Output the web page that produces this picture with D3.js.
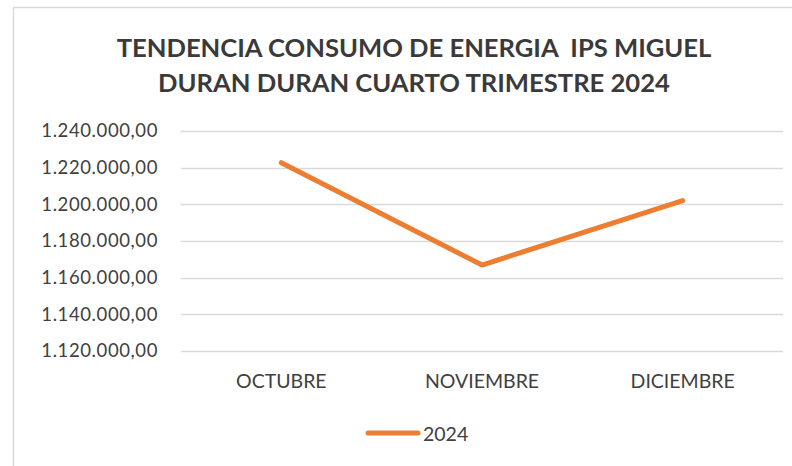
<!DOCTYPE html>
<html>
<head>
<meta charset="utf-8">
<script src="https://cdn.jsdelivr.net/npm/d3@7"></script>
<style>
  body { margin: 0; background: #fff; }
  svg { display: block; }
</style>
</head>
<body>
<div id="chart"></div>
<script>
// data
var meses = ["OCTUBRE", "NOVIEMBRE", "DICIEMBRE"];
var consumo2024 = [1222700, 1166900, 1202000];
var serieNombre = "2024";
var yTicks = [1120000, 1140000, 1160000, 1180000, 1200000, 1220000, 1240000];
var tituloLineas = ["TENDENCIA CONSUMO DE ENERGIA  IPS MIGUEL", "DURAN DURAN CUARTO TRIMESTRE 2024"];

var width = 792,
    height = 466;
var margin = {top: 131, right: 9, bottom: 115, left: 181};

var esLocale = d3.formatLocale({decimal: ",", thousands: ".", grouping: [3], currency: ["$", ""]});
var fmt = esLocale.format(",.2f");

var svg = d3.select("#chart").append("svg")
    .attr("width", width)
    .attr("height", height);

// chart area frame (runs off the right and bottom edges)
svg.append("rect")
    .attr("x", 13.5)
    .attr("y", 7.5)
    .attr("width", 800)
    .attr("height", 480)
    .attr("fill", "#fff")
    .attr("stroke", "#d9d9d9")
    .attr("stroke-width", 1.5);

// title
svg.append("g").selectAll("text")
    .data(tituloLineas).enter().append("text")
    .attr("x", 414)
    .attr("y", function(d, i) { return 57 + i * 35; })
    .attr("text-anchor", "middle")
    .attr("font-family", "Lato, 'Open Sans', sans-serif")
    .attr("font-weight", "bold")
    .attr("font-size", 25.6)
    .attr("fill", "#3a3a3a")
    .style("white-space", "pre")
    .text(function(d) { return d; });

var x = d3.scaleBand()
    .domain(meses)
    .range([margin.left, width - margin.right]);

var y = d3.scaleLinear()
    .domain([1120000, 1240000])
    .range([height - margin.bottom, margin.top]);

// gridlines
svg.append("g")
    .attr("class", "grid")
    .selectAll("line")
    .data(yTicks).enter().append("line")
    .attr("x1", margin.left)
    .attr("x2", width - margin.right)
    .attr("y1", function(d) { return Math.round(y(d)) + 0.5; })
    .attr("y2", function(d) { return Math.round(y(d)) + 0.5; })
    .attr("stroke", "#d9d9d9")
    .attr("stroke-width", 1.5);

// y axis labels
var yAxis = d3.axisLeft(y)
    .tickValues(yTicks)
    .tickFormat(fmt)
    .tickSize(0)
    .tickPadding(23);

var gy = svg.append("g")
    .attr("transform", "translate(" + margin.left + ",0)")
    .call(yAxis);
gy.select(".domain").remove();
gy.selectAll("text")
    .attr("font-family", "Lato, 'Open Sans', sans-serif")
    .attr("font-size", 18.5)
    .attr("letter-spacing", 0.6)
    .attr("fill", "#404040");

// x axis labels
var xAxis = d3.axisBottom(x)
    .tickSize(0)
    .tickPadding(23);

var gx = svg.append("g")
    .attr("transform", "translate(0," + (height - margin.bottom) + ")")
    .call(xAxis);
gx.select(".domain").remove();
gx.selectAll("text")
    .attr("font-family", "Lato, 'Open Sans', sans-serif")
    .attr("font-size", 19.5)
    .attr("fill", "#404040");

// the line
var datos = meses.map(function(m, i) { return {mes: m, valor: consumo2024[i]}; });

var linea = d3.line()
    .x(function(d) { return x(d.mes) + x.bandwidth() / 2; })
    .y(function(d) { return y(d.valor); });

svg.append("path")
    .datum(datos)
    .attr("d", linea)
    .attr("fill", "none")
    .attr("stroke", "#ed7d31")
    .attr("stroke-width", 5)
    .attr("stroke-linecap", "round")
    .attr("stroke-linejoin", "round");

// legend
var legend = svg.append("g")
    .attr("transform", "translate(366,433)");
legend.append("line")
    .attr("x1", 2)
    .attr("x2", 52)
    .attr("stroke", "#ed7d31")
    .attr("stroke-width", 5)
    .attr("stroke-linecap", "round");
legend.append("text")
    .attr("x", 57)
    .attr("y", 8)
    .attr("font-family", "Lato, 'Open Sans', sans-serif")
    .attr("font-size", 19.5)
    .attr("fill", "#404040")
    .text(serieNombre);
</script>
</body>
</html>
